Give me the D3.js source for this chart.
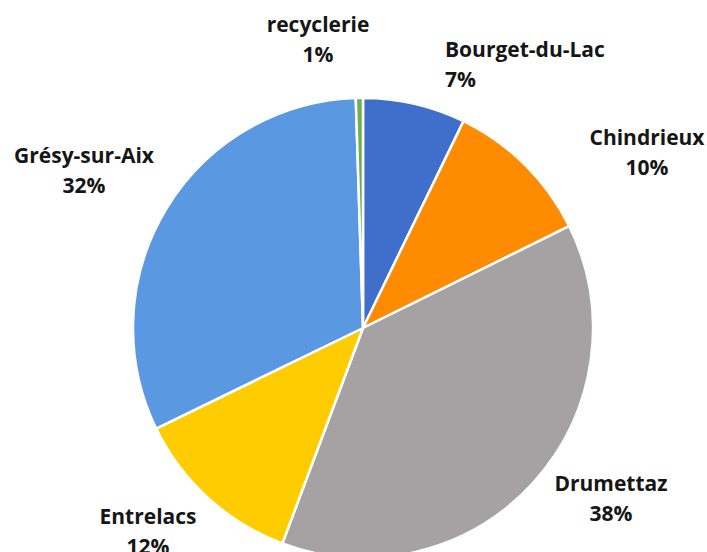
<!DOCTYPE html>
<html lang="fr">
<head>
<meta charset="UTF-8">
<title>Répartition</title>
<script src="https://d3js.org/d3.v7.min.js"></script>
<style>
    body { margin: 0; background: #fff; }
    svg { display: block; }
    .lbl { font-family: "Open Sans", Lato, sans-serif; font-weight: 700; font-size: 21px; fill: #161616; }
</style>
</head>
<body>
<div id="chart"></div>
<script>
// données (ordre horaire depuis midi)
const communes = ["Bourget-du-Lac", "Chindrieux", "Drumettaz", "Entrelacs", "Grésy-sur-Aix", "recyclerie"];
const valeurs = [7.2, 10.5, 38, 12.1, 31.7, 0.5];
const pourcents = ["7%", "10%", "38%", "12%", "32%", "1%"];
const couleurs = ["#3f6fca", "#ff8b00", "#a6a1a3", "#ffcc00", "#5a98e2", "#6fb04a"];

// position des étiquettes (ligne de base du 1er mot)
const etiquettes = [
    { x: 445, y: 57, anchor: "start" },
    { x: 647, y: 145, anchor: "middle" },
    { x: 611, y: 491, anchor: "middle" },
    { x: 148, y: 524, anchor: "middle" },
    { x: 84, y: 163, anchor: "middle" },
    { x: 318, y: 32, anchor: "middle" }
];

const width = 707, height = 552;
const cx = 363, cy = 328, r = 230;

const svg = d3.select("#chart").append("svg")
    .attr("width", width)
    .attr("height", height);

const pie = d3.pie().sort(null).value(d => d);
const arcs = pie(valeurs);
const arc = d3.arc().innerRadius(0).outerRadius(r);

const g = svg.append("g").attr("transform", `translate(${cx},${cy})`);

g.selectAll("path")
    .data(arcs)
    .join("path")
    .attr("d", arc)
    .attr("fill", (d, i) => couleurs[i])
    .attr("stroke", "#fff")
    .attr("stroke-width", 2.5)
    .attr("stroke-linejoin", "round");

const lbl = svg.append("g")
    .selectAll("text")
    .data(communes)
    .join("text")
    .attr("class", "lbl")
    .attr("x", (d, i) => etiquettes[i].x)
    .attr("y", (d, i) => etiquettes[i].y)
    .attr("text-anchor", (d, i) => etiquettes[i].anchor);

lbl.append("tspan").text(d => d);
lbl.append("tspan")
    .attr("x", (d, i) => etiquettes[i].x)
    .attr("dy", 30)
    .text((d, i) => pourcents[i]);
</script>
</body>
</html>
